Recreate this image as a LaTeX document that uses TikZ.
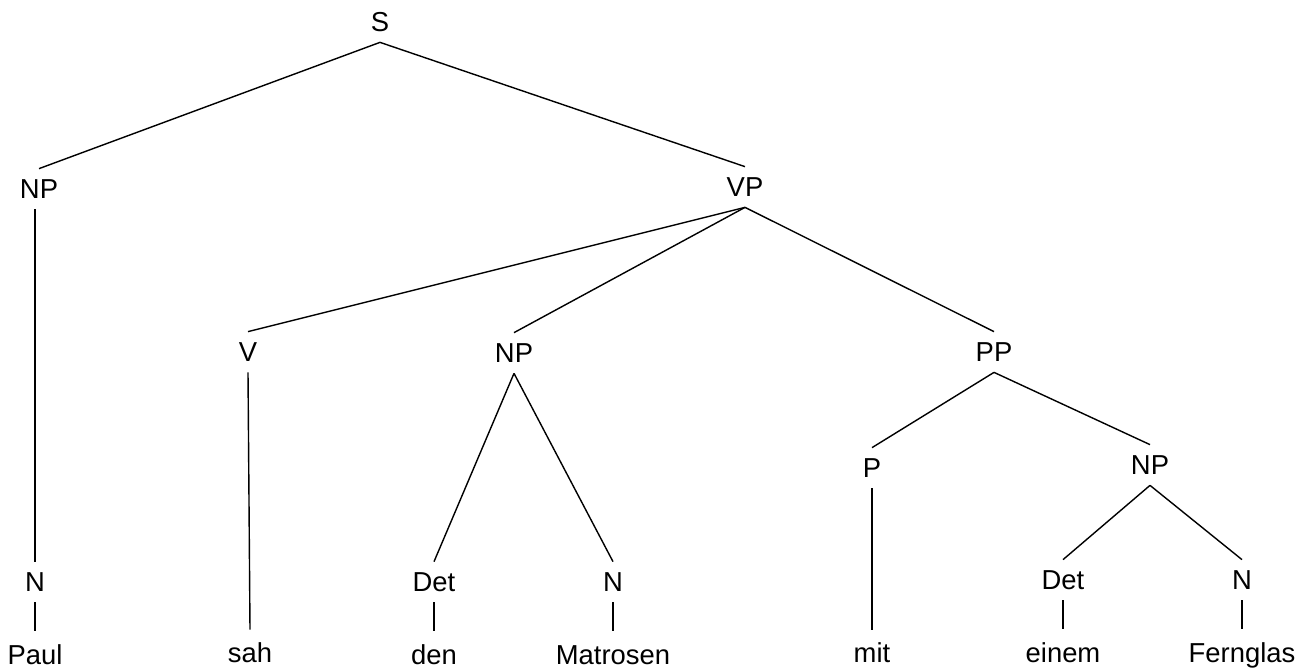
\documentclass[tikz,border=0pt]{standalone}
\usepackage{fontspec}
\setmainfont{Liberation Sans}
\usetikzlibrary{positioning}

\begin{document}
\begin{tikzpicture}[x=0.02cm, y=-0.02cm, line width=0.8pt,
    font=\fontsize{15.6}{18}\selectfont,
    cat/.style={inner xsep=1pt, inner ysep=0.2cm, text height=11pt, text depth=0pt},
    word/.style={inner xsep=1pt, inner ysep=0.26cm, text height=11pt, text depth=0pt}]
  \useasboundingbox (0,0) rectangle (1311,670);
  % phrases
  \node[cat] (s) at (380,22) {S};
  \node[cat] (np1) at (39,189) {NP};
  \node[cat] (vp) at (745,187) {VP};
  \node[cat] (v) at (248,352) {V};
  \node[cat] (np2) at (514,353) {NP};
  \node[cat] (pp) at (994,352) {PP};
  \node[cat] (p) at (872,468) {P};
  \node[cat] (np3) at (1150,465) {NP};
  \node[cat] (n1) at (35,582) {N};
  \node[cat] (det1) at (434,582) {Det};
  \node[cat] (n2) at (613,582) {N};
  \node[cat] (det2) at (1063,580) {Det};
  \node[cat] (n3) at (1242,580) {N};
  % words
  \node[word, below=5.8mm of n1] (paul) {Paul};
  \node[word] (sah) at (250,653) {sah};
  \node[word, below=5.8mm of det1] (den) {den};
  \node[word, below=5.8mm of n2] (matrosen) {Matrosen};
  \node[word] (mit) at (872,653) {mit};
  \node[word, below=5.8mm of det2] (einem) {einem};
  \node[word, below=5.8mm of n3] (fernglas) {Fernglas};
  % branches
  \draw (s.south) -- (np1.north);
  \draw (s.south) -- (vp.north);
  \draw (n1.north |- np1.south) -- (n1.north);
  \draw (vp.south) -- (v.north);
  \draw (vp.south) -- (np2.north);
  \draw (vp.south) -- (pp.north);
  \draw (np2.south) -- (det1.north);
  \draw (np2.south) -- (n2.north);
  \draw (pp.south) -- (p.north);
  \draw (pp.south) -- (np3.north);
  \draw (np3.south) -- (det2.north);
  \draw (np3.south) -- (n3.north);
  \draw (n1.south) -- (paul.north);
  \draw (v.south) -- (sah.north);
  \draw (det1.south) -- (den.north);
  \draw (n2.south) -- (matrosen.north);
  \draw (p.south) -- (mit.north);
  \draw (det2.south) -- (einem.north);
  \draw (n3.south) -- (fernglas.north);
\end{tikzpicture}
\end{document}
